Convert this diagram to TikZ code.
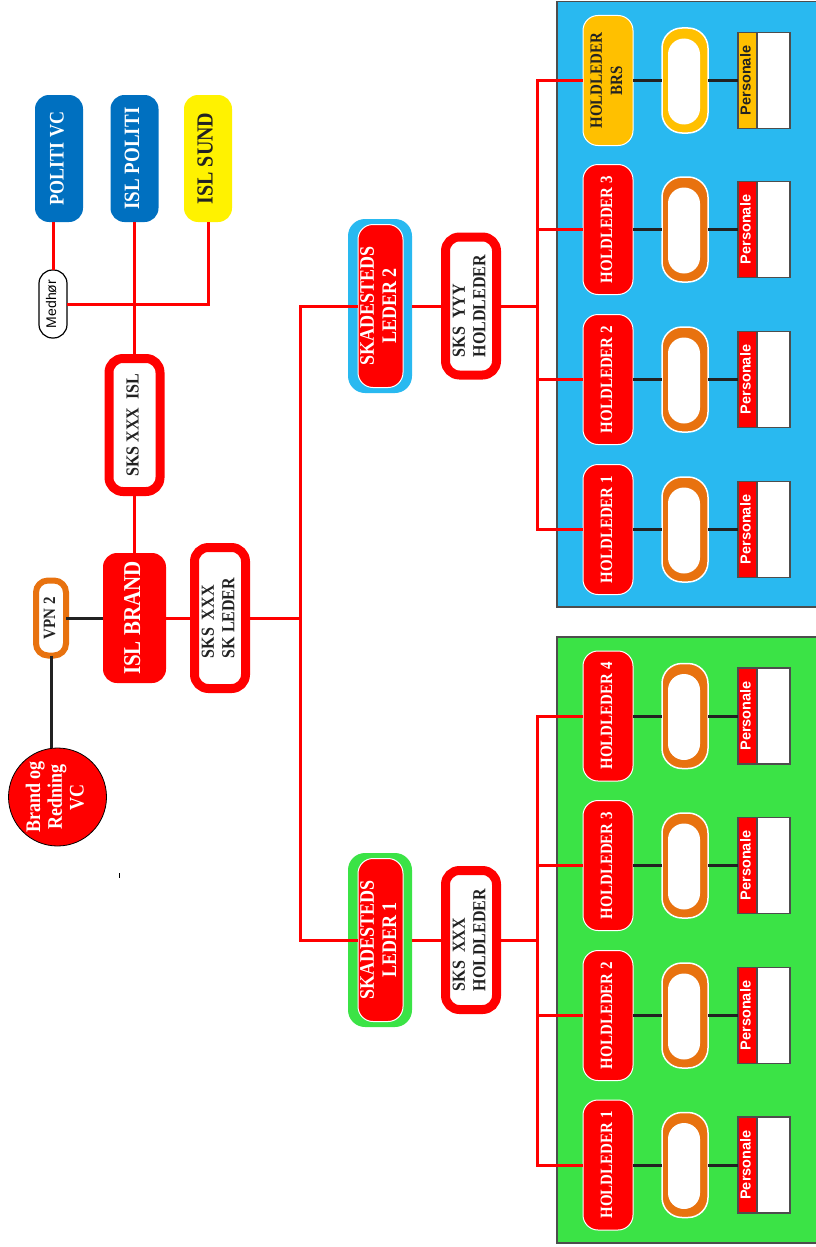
\documentclass[tikz,border=0pt]{standalone}
\usepackage{fontspec}
\setmainfont{Liberation Serif}
\newfontfamily\lsans{Liberation Sans}
\usepackage{graphicx}
\definecolor{panblue}{HTML}{29B9F0}
\definecolor{pangreen}{HTML}{3BE346}
\definecolor{polblue}{HTML}{0070C0}
\definecolor{orng}{HTML}{E8720F}
\definecolor{amber}{HTML}{FFC000}
\definecolor{lnblack}{HTML}{222222}
\definecolor{edgegray}{HTML}{4D4D4D}
\newcommand{\rtc}[1]{\rotatebox{90}{\scalebox{1}[1.15]{\begin{tabular}{@{}c@{}}#1\end{tabular}}}}
\newcommand{\rtl}[1]{\rotatebox{90}{\scalebox{1}[1.15]{\begin{tabular}{@{}l@{}}#1\end{tabular}}}}
\newcommand{\rts}[1]{\rotatebox{90}{\begin{tabular}{@{}c@{}}#1\end{tabular}}}
\tikzset{
  every node/.style={inner sep=0pt, outer sep=0pt},
  rl/.style={draw=red, line width=3pt},
  bl/.style={draw=lnblack, line width=3pt},
  ring/.style={draw=red, line width=9pt, fill=white, rounded corners=14pt, text=lnblack,
    minimum width=51pt, font=\bfseries\fontsize{16}{18}\selectfont},
  solidbox/.style={rounded corners=14pt, minimum width=48pt, minimum height=127pt},
  hl/.style={draw=white, line width=1pt, fill=red, rounded corners=15pt, text=white,
    minimum width=50pt, minimum height=130pt, font=\bfseries\fontsize{15}{17.5}\selectfont},
  pill/.style={draw=white, line width=1.5pt, fill=orng, rounded corners=20pt,
    minimum width=46pt, minimum height=105pt},
  pillin/.style={fill=white, rounded corners=16pt, minimum width=32pt, minimum height=86pt},
  pers/.style={draw=edgegray, line width=1.2pt, fill=white, minimum width=52pt, minimum height=96pt},
  strip/.style={draw=edgegray, line width=1.2pt, fill=red, text=white, minimum width=19pt,
    minimum height=96pt, font=\lsans\bfseries\fontsize{14.5}{16}\selectfont},
  slout/.style={rounded corners=17pt, minimum width=64pt, minimum height=174pt},
  slin/.style={draw=white, line width=1pt, fill=red, rounded corners=15pt, text=white,
    minimum width=45pt, minimum height=163pt, font=\bfseries\fontsize{18}{19.5}\selectfont},
  panel/.style={draw=edgegray, line width=1.5pt}
}
\begin{document}
\begin{tikzpicture}[x=1pt,y=-1pt]
\useasboundingbox (0,0) rectangle (816,1247);
% panels
\path[panel, fill=panblue] (557,1.5) rectangle (830,607);
\path[panel, fill=pangreen] (557,637) rectangle (830,1243);

% top-left group
\node[solidbox, fill=polblue, text=white, font=\bfseries\fontsize{18}{20}\selectfont] (pvc) at (59,158.5) {\rtc{POLITI VC}};
\node[solidbox, fill=polblue, text=white, font=\bfseries\fontsize{19}{20}\selectfont] (islp) at (134.5,158.5) {\rtc{ISL POLITI}};
\node[solidbox, fill=yellow, text=lnblack, font=\bfseries\fontsize{20}{20}\selectfont] (isund) at (208,158.5) {\rtc{ISL SUND}};
\node[draw=black, line width=1.2pt, fill=white, rounded corners=13.5pt, minimum width=28pt,
  minimum height=68pt, font=\lsans\fontsize{14}{16}\selectfont] (medh) at (53,304) {\rts{Medhør}};
\node[ring, minimum height=133pt] (sksisl) at (134.5,425) {\rtc{SKS XXX\ \ ISL}};

% command column
\node[circle, draw=black, line width=0.8pt, fill=red, minimum size=98pt, text=white,
  font=\bfseries\fontsize{18}{19}\selectfont] (bvc) at (57.5,797) {\rtc{Brand og\\Redning\\VC}};
\node[draw=orng, line width=6pt, fill=white, rounded corners=12pt, minimum width=30pt,
  minimum height=75pt, text=lnblack, font=\bfseries\fontsize{15}{18}\selectfont] (vpn) at (51,618) {\rtc{VPN 2}};
\node[fill=red, rounded corners=14pt, minimum width=63pt, minimum height=130pt, text=white,
  font=\bfseries\fontsize{21}{24}\selectfont] (islb) at (134.5,618) {\rtc{ISL BRAND}};
\node[ring, minimum height=141pt] (sklead) at (220,618) {\rtl{SKS\ \ XXX\\SK LEDER}};

% skadesteds leaders
\node[slout, fill=panblue] (sl2out) at (380,306) {};
\node[slin] (sl2) at (380.5,306) {\rtc{SKADESTEDS\\LEDER 2}};
\node[ring, minimum height=138pt] (syyy) at (471,306) {\rtl{SKS\ \ YYY\\HOLDLEDER}};
\node[slout, fill=pangreen] (sl1out) at (380,940) {};
\node[slin] (sl1) at (380.5,940) {\rtc{SKADESTEDS\\LEDER 1}};
\node[ring, minimum height=139pt] (sxxx) at (471,940) {\rtl{SKS\ \ XXX\\HOLDLEDER}};

\coordinate (jm) at (300,618);
\coordinate (jb) at (537,306);
\coordinate (jg) at (537,940);
\coordinate (tk1) at (119.5,873);
\coordinate (tk2) at (119.5,878);

% connectors top-left
\draw[rl] (medh) -- (medh |- pvc.south);
\draw[rl] (medh) -| (isund);
\draw[rl] (islp) -- (sksisl);
\draw[rl] (sksisl) -- (islb);
\draw[bl] (vpn) -- (vpn |- bvc.north);
\draw[bl] (vpn) -- (islb);
\draw[rl] (islb) -- (sklead);
\draw[rl] (sklead) -- (jm);
\draw[rl] (jm) |- (sl2);
\draw[rl] (jm) |- (sl1);
\draw[rl] (sl2out) -- (syyy);
\draw[rl] (sl1out) -- (sxxx);
\draw[rl] (syyy) -- (jb);
\draw[rl] (sxxx) -- (jg);
\draw[draw=black, line width=1pt] (tk1) -- (tk2);

% blue panel rows
\node[hl, fill=amber, text=lnblack] (bbrs) at (608,80.5) {\rtc{HOLDLEDER\\BRS}};
\node[pill, fill=amber] (bpb) at (685,80.5) {};
\node[pillin] at (684,81.5) {};
\node[pers] (bsb) at (764,80.5) {};
\node[strip, fill=amber, text=lnblack] at (747.5,80.5) {\rts{Personale}};
\draw[bl] (bbrs) -- (bpb);
\draw[bl] (bpb) -- (bsb);
\draw[rl] (jb) |- (bbrs);

\foreach \n/\y in {1/529.5, 2/379.5, 3/229.5} {
  \node[hl] (bh\n) at (608,\y) {\rtc{HOLDLEDER \n}};
  \node[pill] (bp\n) at (685,\y) {};
  \node[pillin] at (684,\y+1) {};
  \node[pers] (bs\n) at (764,\y) {};
  \node[strip] at (747.5,\y) {\rts{Personale}};
  \draw[bl] (bh\n) -- (bp\n);
  \draw[bl] (bp\n) -- (bs\n);
  \draw[rl] (jb) |- (bh\n);
}

% green panel rows
\foreach \n/\y in {1/1165, 2/1015.5, 3/865.5, 4/716} {
  \node[hl] (gh\n) at (608,\y) {\rtc{HOLDLEDER \n}};
  \node[pill] (gp\n) at (685,\y) {};
  \node[pillin] at (684,\y+1) {};
  \node[pers] (gs\n) at (764,\y) {};
  \node[strip] at (747.5,\y) {\rts{Personale}};
  \draw[bl] (gh\n) -- (gp\n);
  \draw[bl] (gp\n) -- (gs\n);
  \draw[rl] (jg) |- (gh\n);
}
\end{tikzpicture}
\end{document}
